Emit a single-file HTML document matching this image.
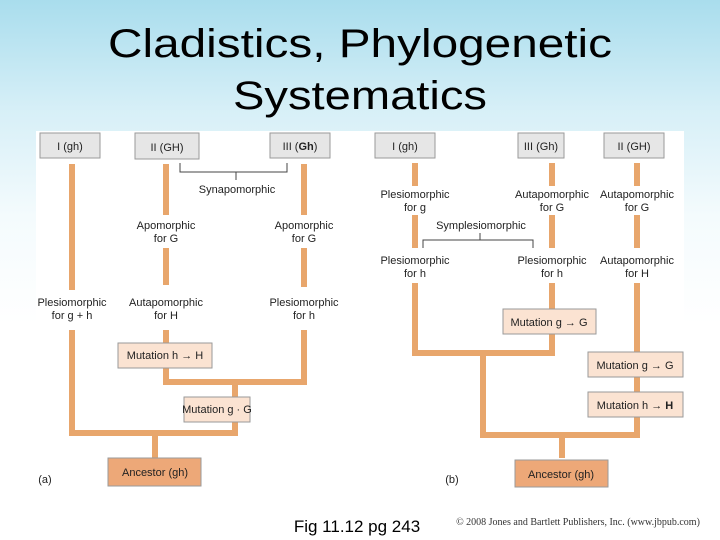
<!DOCTYPE html>
<html><head><style>
html,body{margin:0;padding:0;}
body{width:720px;height:540px;overflow:hidden;background:linear-gradient(#a9dded 0%,#d6eff7 20%,#f4fbfd 40%,#fff 60%);font-family:"Liberation Sans",sans-serif;}
svg{display:block}
</style></head><body>
<svg width="720" height="540" viewBox="0 0 720 540" xmlns="http://www.w3.org/2000/svg" font-family="Liberation Sans, sans-serif">
<text x="360" y="57" font-size="40" text-anchor="middle" textLength="504" lengthAdjust="spacingAndGlyphs">Cladistics, Phylogenetic</text>
<text x="360" y="109" font-size="40" text-anchor="middle" textLength="254" lengthAdjust="spacingAndGlyphs">Systematics</text>
<rect x="36" y="131" width="648" height="360" fill="#fff"/>
<g stroke="#e8a66c" stroke-width="6" fill="none" stroke-linecap="butt">
<!-- panel a -->
<path d="M72 164V290M72 330V433M166 164V215M166 248V285M166 330V382M304 164V215M304 248V287M304 330V382M163 382H307M235 382V433M69 433H238M155 433V458"/>
<!-- panel b -->
<path d="M415 163V186M415 215V248M415 283V353M552 163V186M552 215V248M552 283V353M412 353H555M483 353V435M637 163V186M637 215V248M637 283V435M480 435H640M562 435V458"/>
</g>
<g fill="#e6e6e6" stroke="#9a9a9a" stroke-width="1">
<rect x="40" y="133" width="60" height="25"/>
<rect x="135" y="133" width="64" height="26"/>
<rect x="270" y="133" width="60" height="25"/>
<rect x="375" y="133" width="60" height="25"/>
<rect x="518" y="133" width="46" height="25"/>
<rect x="604" y="133" width="60" height="25"/>
</g>
<g fill="#fbe3d2" stroke="#9a9a9a" stroke-width="1">
<rect x="118" y="343" width="94" height="25"/>
<rect x="184" y="397" width="66" height="25"/>
<rect x="503" y="309" width="93" height="25"/>
<rect x="588" y="352" width="95" height="25"/>
<rect x="588" y="392" width="95" height="25"/>
</g>
<g fill="#eda878" stroke="#9a9a9a" stroke-width="1">
<rect x="108" y="458" width="93" height="28"/>
<rect x="515" y="460" width="93" height="27"/>
</g>
<g stroke="#444" stroke-width="1" fill="none">
<path d="M180 163V172H287V163M236 172V180"/>
<path d="M423 248V240H533V248M480 240V233"/>
</g>
<g font-size="11" fill="#222" text-anchor="middle">
<text x="70" y="150">I (gh)</text>
<text x="167" y="151">II (GH)</text>
<text x="300" y="150">III (<tspan font-weight="bold">Gh</tspan>)</text>
<text x="405" y="150">I (gh)</text>
<text x="541" y="150">III (Gh)</text>
<text x="634" y="150">II (GH)</text>
<text x="237" y="193">Synapomorphic</text>
<text x="166" y="229">Apomorphic</text><text x="166" y="242">for G</text>
<text x="304" y="229">Apomorphic</text><text x="304" y="242">for G</text>
<text x="72" y="306">Plesiomorphic</text><text x="72" y="319">for g + h</text>
<text x="166" y="306">Autapomorphic</text><text x="166" y="319">for H</text>
<text x="304" y="306">Plesiomorphic</text><text x="304" y="319">for h</text>
<text x="165" y="359">Mutation h → H</text>
<text x="217" y="413">Mutation g  · G</text>
<text x="155" y="476">Ancestor (gh)</text>
<text x="45" y="483">(a)</text>
<text x="415" y="198">Plesiomorphic</text><text x="415" y="211">for g</text>
<text x="552" y="198">Autapomorphic</text><text x="552" y="211">for G</text>
<text x="637" y="198">Autapomorphic</text><text x="637" y="211">for G</text>
<text x="481" y="229">Symplesiomorphic</text>
<text x="415" y="264">Plesiomorphic</text><text x="415" y="277">for h</text>
<text x="552" y="264">Plesiomorphic</text><text x="552" y="277">for h</text>
<text x="637" y="264">Autapomorphic</text><text x="637" y="277">for H</text>
<text x="549" y="326">Mutation g → G</text>
<text x="635" y="369">Mutation g → G</text>
<text x="635" y="409">Mutation h → <tspan font-weight="bold">H</tspan></text>
<text x="561" y="478">Ancestor (gh)</text>
<text x="452" y="483">(b)</text>
</g>
<text x="357" y="532" font-size="17" text-anchor="middle">Fig 11.12 pg 243</text>
<text x="578" y="525" font-size="10" font-family="Liberation Serif, serif" fill="#333" text-anchor="middle">© 2008 Jones and Bartlett Publishers, Inc. (www.jbpub.com)</text>
</svg>
</body></html>
